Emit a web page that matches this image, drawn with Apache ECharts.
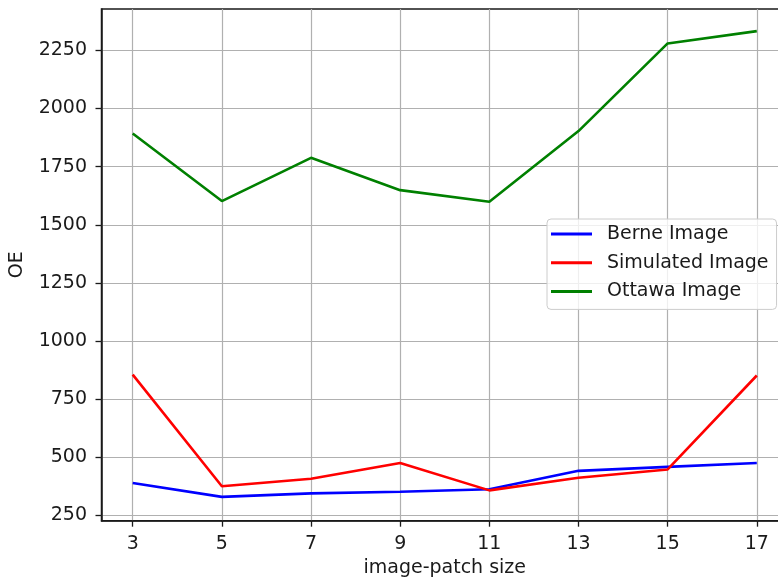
<!DOCTYPE html>
<html>
<head>
<meta charset="utf-8">
<script src="https://cdn.jsdelivr.net/npm/echarts@6/dist/echarts.min.js"></script>
<style>
html,body{margin:0;padding:0;background:#fff;}
#chart{width:778px;height:581px;}
</style>
</head>
<body>
<div id="chart"></div>
<script>
const patchSizes = [3, 5, 7, 9, 11, 13, 15, 17];
const berne = [390, 330, 345, 352, 363, 442, 459, 476];
const simulated = [856, 376, 408, 476, 358, 412, 448, 852];
const ottawa = [1893, 1602, 1788, 1649, 1599, 1903, 2280, 2333];
const xTicks = [3, 5, 7, 9, 11, 13, 15, 17];
const yTicks = [250, 500, 750, 1000, 1250, 1500, 1750, 2000, 2250];

const FONT = 'DejaVu Sans';
const pairs = arr => patchSizes.map((x, i) => [x, arr[i]]);

const chart = echarts.init(document.getElementById('chart'), null, {renderer: 'canvas'});
const mkSeries = (name, data, color) => ({
  name: name, type: 'line', data: pairs(data), showSymbol: false, symbol: 'none',
  lineStyle: {width: 2.6, color: color}, itemStyle: {color: color}, z: 3
});
chart.setOption({
  animation: false,
  backgroundColor: '#ffffff',
  grid: {left: 101.5, top: 9, width: 686.5, height: 511.7, containLabel: false, outerBoundsMode: 'none',
         show: true, borderColor: '#1a1a1a', borderWidth: 1.5, backgroundColor: 'transparent'},
  xAxis: {
    type: 'value', min: 2.3, max: 17.7,
    name: 'image-patch size', nameLocation: 'middle', nameGap: 38,
    nameTextStyle: {fontFamily: FONT, fontSize: 19, color: '#1a1a1a'},
    axisLine: {show: true, lineStyle: {color: '#1a1a1a', width: 1.5}},
    axisTick: {show: true, length: 6, customValues: xTicks, lineStyle: {color: '#1a1a1a', width: 1.3}},
    axisLabel: {customValues: xTicks, margin: 14, fontFamily: FONT, fontSize: 19, color: '#1a1a1a',
                formatter: v => String(v)},
    splitLine: {show: true, lineStyle: {color: '#b0b0b0', width: 1.2}}
  },
  yAxis: {
    type: 'value', min: 227.6, max: 2428,
    name: 'OE', nameLocation: 'middle', nameGap: 75, nameRotate: 90,
    nameTextStyle: {fontFamily: FONT, fontSize: 19, color: '#1a1a1a'},
    axisLine: {show: true, lineStyle: {color: '#1a1a1a', width: 1.5}},
    axisTick: {show: true, length: 6, customValues: yTicks, lineStyle: {color: '#1a1a1a', width: 1.3}},
    axisLabel: {customValues: yTicks, margin: 14.5, fontFamily: FONT, fontSize: 19, color: '#1a1a1a',
                formatter: v => String(v)},
    splitLine: {show: true, lineStyle: {color: '#b0b0b0', width: 1.2}}
  },
  legend: {
    orient: 'vertical', left: 547, top: 219,
    icon: 'rect', itemWidth: 41, itemHeight: 3, itemGap: 8.7,
    padding: [5, 8, 8, 4],
    backgroundColor: 'rgba(255,255,255,0.8)', borderColor: '#cccccc', borderWidth: 1, borderRadius: 4,
    textStyle: {fontFamily: FONT, fontSize: 19, color: '#1a1a1a', lineHeight: 20, padding: [0, 0, 0, 10]},
    data: ['Berne Image', 'Simulated Image', 'Ottawa Image']
  },
  series: [
    mkSeries('Berne Image', berne, '#0000ff'),
    mkSeries('Simulated Image', simulated, '#ff0000'),
    mkSeries('Ottawa Image', ottawa, '#008000')
  ]
});
</script>
</body>
</html>
